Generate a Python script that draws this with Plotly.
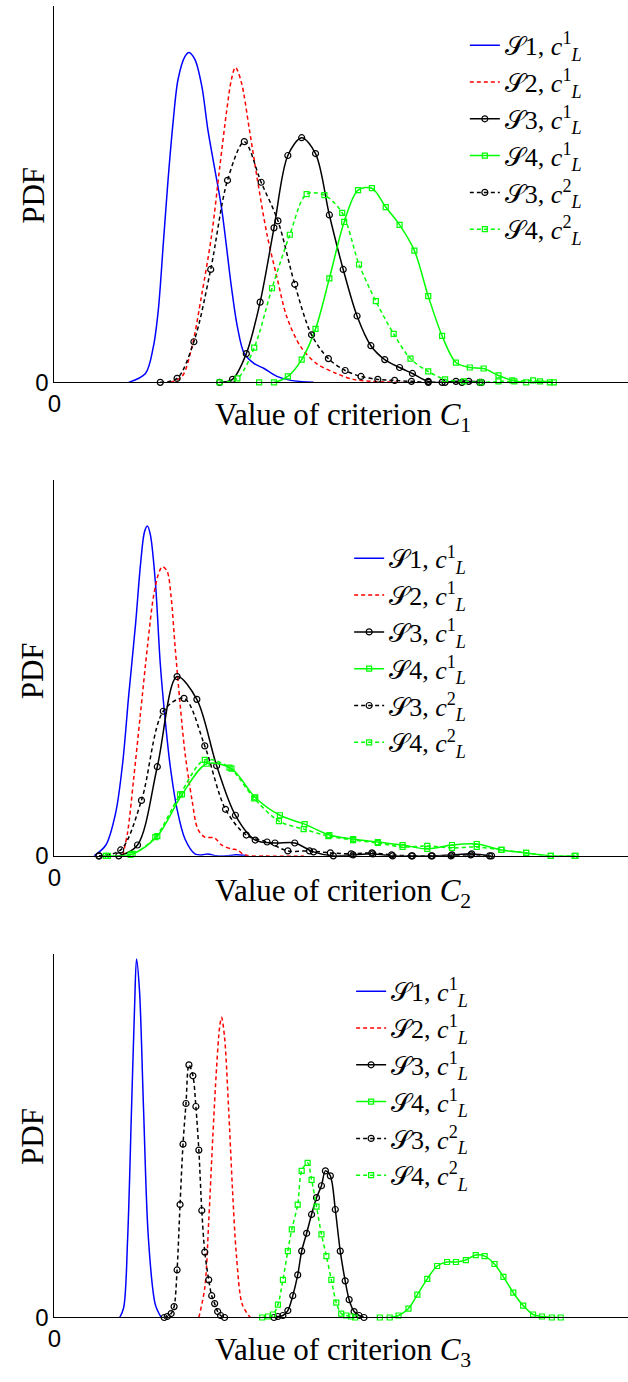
import plotly.graph_objects as go

# ---------------- data (arbitrary units) ----------------
# Panel 1 : criterion C1
c1_s1_x = [75, 92, 100, 105, 110, 115, 120, 125, 132, 136, 142, 149, 155, 162, 169, 179, 185, 192, 202, 212, 225, 239, 262]
c1_s1_y = [0, 9, 36, 73, 139, 206, 263, 306, 329, 333, 326, 299, 256, 216, 176, 96, 56, 29, 19, 14, 6, 2, 0]
c1_s2_x = [117, 129, 139, 149, 159, 167, 174, 179, 183, 189, 197, 205, 215, 225, 235, 249, 265, 285, 302, 322, 352]
c1_s2_y = [0, 6, 36, 89, 149, 216, 273, 306, 318, 303, 256, 206, 149, 106, 66, 36, 19, 9, 3, 1, 0]
c1_s3a_x = [167, 180, 194, 208, 222, 236, 250, 264, 278, 292, 306, 320, 334, 349, 362, 378, 392, 406, 419, 432]
c1_s3a_y = [0, 3, 29, 81, 156, 229, 247, 231, 169, 114, 67, 37, 23, 15, 9, 1, 0, 1, 1, 0]
c1_s4a_x = [207, 222, 236, 250, 264, 278, 293, 307, 321, 335, 349, 364, 378, 392, 406, 420, 434, 449, 463, 477, 491, 505]
c1_s4a_y = [0, 0, 6, 23, 54, 105, 162, 194, 196, 177, 159, 133, 87, 47, 20, 15, 14, 7, 2, 0, 1, 0]
c1_s3b_x = [107, 124, 141, 158, 175, 192, 209, 226, 243, 260, 277, 294, 310, 327, 344, 361, 378, 395, 412, 430]
c1_s3b_y = [0, 4, 41, 114, 204, 243, 202, 163, 99, 48, 24, 12, 6, 3, 2, 1, 0, 0, 0, 0]
c1_s4b_x = [167, 185, 202, 220, 238, 255, 273, 291, 308, 325, 343, 360, 378, 395, 414, 431, 449, 465, 484, 501]
c1_s4b_y = [0, 4, 35, 95, 149, 190, 189, 171, 119, 82, 49, 24, 11, 3, 1, 0, 1, 1, 2, 0]

# Panel 2 : criterion C2
c2_s1_x = [40, 52, 62, 69, 75, 82, 87, 91, 94, 97, 102, 107, 112, 117, 124, 132, 142, 149, 155, 164, 174, 182, 195]
c2_s1_y = [0, 11, 44, 94, 161, 234, 294, 327, 333, 324, 277, 194, 137, 91, 47, 17, 2, 1, 2, 0, 0, 1, 0]
c2_s2_x = [69, 74, 80, 87, 94, 100, 105, 109, 114, 118, 122, 127, 132, 139, 145, 152, 162, 169, 179, 185, 192, 215, 252]
c2_s2_y = [0, 24, 77, 144, 211, 261, 284, 292, 287, 261, 211, 154, 104, 57, 27, 19, 18, 11, 7, 6, 1, 0, 0]
c2_s3a_x = [45, 65, 84, 104, 124, 144, 164, 183, 203, 223, 243, 262, 282, 302, 322, 342, 362, 382, 402, 422, 442]
c2_s3a_y = [0, 0, 11, 90, 181, 158, 91, 41, 16, 13, 13, 4, 0, 1, 2, 0, 0, 0, 1, 2, 0]
c2_s4a_x = [54, 79, 104, 129, 154, 179, 203, 228, 253, 278, 302, 327, 352, 377, 402, 427, 452, 477, 502, 526]
c2_s4a_y = [0, 2, 20, 62, 93, 88, 59, 41, 32, 21, 17, 14, 11, 7, 11, 12, 6, 3, 0, 0]
c2_s3b_x = [45, 67, 88, 110, 131, 152, 173, 194, 215, 236, 258, 279, 300, 321, 341, 361, 381, 401, 421, 440]
c2_s3b_y = [0, 6, 56, 146, 159, 111, 47, 21, 14, 5, 5, 3, 2, 3, 1, 0, 0, 0, 1, 0]
c2_s4b_x = [52, 77, 102, 127, 152, 177, 202, 227, 252, 277, 302, 327, 352, 377, 402, 427, 452, 477, 502, 527]
c2_s4b_y = [0, 1, 19, 62, 97, 89, 58, 35, 27, 20, 16, 13, 9, 10, 8, 9, 6, 3, 0, 0]

# Panel 3 : criterion C3
c3_s1_x = [66, 70, 74, 78, 81, 83, 86, 90, 95, 102, 108]
c3_s1_y = [0, 10, 80, 213, 313, 362, 330, 213, 80, 13, 0]
c3_s2_x = [146, 152, 156, 160, 164, 167, 169, 172, 176, 180, 184, 190, 198]
c3_s2_y = [0, 30, 97, 180, 253, 293, 303, 283, 213, 130, 63, 13, 0]
c3_s3a_x = [222, 226, 231, 236, 241, 246, 250, 255, 260, 265, 270, 274, 279, 284, 289, 294, 298, 303, 308, 313]
c3_s3a_y = [0, 1, 2, 7, 22, 43, 67, 85, 104, 121, 133, 148, 143, 109, 67, 37, 18, 6, 2, 0]
c3_s4a_x = [329, 339, 348, 358, 367, 377, 387, 397, 406, 416, 426, 435, 445, 454, 464, 474, 484, 493, 503, 512]
c3_s4a_y = [0, 0, 2, 9, 23, 39, 52, 56, 56, 58, 63, 62, 54, 41, 25, 12, 3, 1, 0, 0]
c3_s3b_x = [111, 114, 118, 121, 124, 127, 130, 133, 136, 140, 143, 146, 149, 152, 156, 159, 162, 165, 168, 172]
c3_s3b_y = [0, 1, 4, 11, 48, 114, 175, 216, 255, 244, 213, 169, 108, 66, 38, 22, 14, 6, 2, 0]
c3_s4b_x = [210, 216, 221, 226, 231, 236, 240, 246, 250, 256, 260, 265, 270, 275, 280, 285, 290, 295, 300, 304]
c3_s4b_y = [0, 1, 3, 13, 38, 67, 89, 114, 148, 156, 139, 112, 84, 62, 38, 15, 4, 2, 1, 0]

series_names = [
    "𝒮1, <i>c</i><sup>1</sup><sub><i>L</i></sub>",
    "𝒮2, <i>c</i><sup>1</sup><sub><i>L</i></sub>",
    "𝒮3, <i>c</i><sup>1</sup><sub><i>L</i></sub>",
    "𝒮4, <i>c</i><sup>1</sup><sub><i>L</i></sub>",
    "𝒮3, <i>c</i><sup>2</sup><sub><i>L</i></sub>",
    "𝒮4, <i>c</i><sup>2</sup><sub><i>L</i></sub>",
]
criteria = ["1", "2", "3"]
y_tops = [380, 379, 367]
x_max = 580

panels = [
    [(c1_s1_x, c1_s1_y), (c1_s2_x, c1_s2_y), (c1_s3a_x, c1_s3a_y), (c1_s4a_x, c1_s4a_y), (c1_s3b_x, c1_s3b_y), (c1_s4b_x, c1_s4b_y)],
    [(c2_s1_x, c2_s1_y), (c2_s2_x, c2_s2_y), (c2_s3a_x, c2_s3a_y), (c2_s4a_x, c2_s4a_y), (c2_s3b_x, c2_s3b_y), (c2_s4b_x, c2_s4b_y)],
    [(c3_s1_x, c3_s1_y), (c3_s2_x, c3_s2_y), (c3_s3a_x, c3_s3a_y), (c3_s4a_x, c3_s4a_y), (c3_s3b_x, c3_s3b_y), (c3_s4b_x, c3_s4b_y)],
]

BLUE, RED, BLACK, GREEN = "#0000ff", "#ff0000", "#000000", "#00ff00"
DASH = "4px,3px"
styles = [
    dict(color=BLUE, dash="solid", mode="lines", symbol=None),
    dict(color=RED, dash=DASH, mode="lines", symbol=None),
    dict(color=BLACK, dash="solid", mode="lines+markers", symbol="circle-open"),
    dict(color=GREEN, dash="solid", mode="lines+markers", symbol="square-open"),
    dict(color=BLACK, dash=DASH, mode="lines+markers", symbol="circle-open"),
    dict(color=GREEN, dash=DASH, mode="lines+markers", symbol="square-open"),
]

W, H = 628, 1382
panel_px = [(6, 386), (485, 864), (963, 1330)]
x_left_px = 48

fig = go.Figure()
legend_ids = ["legend", "legend2", "legend3"]
axis_ids = [("x", "y"), ("x2", "y2"), ("x3", "y3")]

for p, data in enumerate(panels):
    xa, ya = axis_ids[p]
    for i, (xs, ys) in enumerate(data):
        st = styles[i]
        tr = dict(
            x=xs, y=ys, name=series_names[i], mode=st["mode"],
            line=dict(color=st["color"], width=1.5, dash=st["dash"], shape="spline", smoothing=0.9),
            xaxis=xa, yaxis=ya, legend=legend_ids[p], cliponaxis=False,
        )
        if st["symbol"]:
            tr["marker"] = dict(symbol=st["symbol"], size=6 if "circle" in st["symbol"] else 5,
                                color=st["color"], line=dict(color=st["color"], width=1.2))
        fig.add_trace(go.Scatter(**tr))

SERIF = "Liberation Serif, Times New Roman, serif"
SANS = "Liberation Sans, Arial, sans-serif"

layout = dict(
    width=W, height=H, margin=dict(l=0, r=0, t=0, b=0),
    paper_bgcolor="white", plot_bgcolor="white", showlegend=True,
)
legend_pos = [(463, 22), (346, 540), (348, 977)]
for p in range(3):
    top, bot = panel_px[p]
    sfx = "" if p == 0 else str(p + 1)
    layout["xaxis" + sfx] = dict(
        domain=[x_left_px / W, 1], range=[0, x_max], anchor="y" + sfx,
        showline=True, linecolor="black", linewidth=1.2, showgrid=False, zeroline=False,
        tickvals=[0], ticktext=["0"], ticks="", tickfont=dict(family=SANS, size=24, color="black"),
    )
    layout["yaxis" + sfx] = dict(
        domain=[1 - bot / H, 1 - top / H], range=[0, y_tops[p]], anchor="x" + sfx,
        showline=True, linecolor="black", linewidth=1.2, showgrid=False, zeroline=False,
        tickvals=[0], ticktext=["0"], ticks="", tickfont=dict(family=SANS, size=24, color="black"),
    )
    lx, ly = legend_pos[p]
    layout[legend_ids[p]] = dict(
        x=lx / W, y=1 - ly / H, xanchor="left", yanchor="top", bgcolor="rgba(0,0,0,0)",
        font=dict(family=SERIF, size=26, color="black"), itemwidth=30, tracegroupgap=0,
    )

fig.update_layout(**layout)

xlab_y = [421, 901, 1365]
pdf_y = [197, 677, 1147]
for p in range(3):
    fig.add_annotation(
        text="Value of criterion <i>C</i><sub>" + criteria[p] + "</sub>",
        x=340 / W, y=1 - xlab_y[p] / H, xref="paper", yref="paper", showarrow=False,
        xanchor="center", yanchor="middle", font=dict(family=SERIF, size=31, color="black"),
    )
    fig.add_annotation(
        text="PDF", x=26 / W, y=1 - pdf_y[p] / H, xref="paper", yref="paper", showarrow=False,
        textangle=-90, xanchor="center", yanchor="middle", font=dict(family=SERIF, size=31, color="black"),
    )

fig.write_html("out.html")
